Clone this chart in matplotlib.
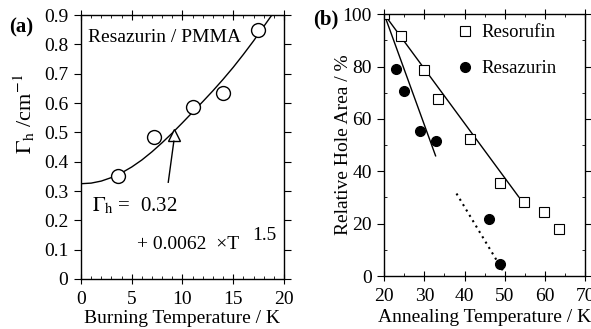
import matplotlib.pyplot as plt
from matplotlib.ticker import MultipleLocator

plt.rcParams['font.family'] = ['Liberation Serif', 'DejaVu Serif']
plt.rcParams['mathtext.fontset'] = 'stix'

# panel (a): hole width vs burning temperature
T_burn = [3.6, 7.2, 11.0, 14.0, 17.4]
gamma_h = [0.35, 0.485, 0.585, 0.635, 0.85]
T_tri = [9.2]
gamma_tri = [0.49]
# fitted curve
T_fit = [0, 1, 2, 3, 4, 5, 6, 7, 8, 9, 10, 11, 12, 13, 14, 15, 16, 17, 18, 18.8]
gamma_fit = [0.325, 0.327, 0.334, 0.346, 0.362, 0.382, 0.406, 0.434, 0.465, 0.498,
             0.533, 0.569, 0.605, 0.642, 0.681, 0.722, 0.766, 0.812, 0.861, 0.90]

# panel (b): relative hole area vs annealing temperature
T_resorufin = [20, 24.2, 30, 33.5, 41.4, 48.8, 54.9, 59.8, 63.4]
area_resorufin = [100, 91.5, 78.5, 67.5, 52.2, 35.6, 28.3, 24.4, 18.1]
T_resazurin = [22.9, 25, 29, 33, 46.2, 48.8]
area_resazurin = [79, 70.8, 55.4, 51.4, 21.6, 4.7]
line_resorufin_x = [20, 53.5]
line_resorufin_y = [100, 30.2]
line_resazurin_x = [20, 32.8]
line_resazurin_y = [100, 45.9]
dotted_x = [38, 50]
dotted_y = [31.5, 0.9]

fs = 14

fig = plt.figure(figsize=(5.91, 3.29), dpi=100)
ax1 = fig.add_axes([0.137, 0.152, 0.3435, 0.802])
ax2 = fig.add_axes([0.650, 0.161, 0.340, 0.796])

for ax in (ax1, ax2):
    ax.tick_params(which='both', top=True, right=True, labelsize=fs)
    ax.tick_params(which='major', direction='out', length=5, width=0.8, pad=4)
    ax.tick_params(which='minor', direction='in', length=2.5, width=0.6)
    ax.tick_params(axis='x', which='major', direction='inout', length=7, pad=5)
    for s in ax.spines.values():
        s.set_linewidth(1.0)

# (a)
ax1.plot(T_fit, gamma_fit, color='black', lw=1.0)
ax1.plot(T_burn, gamma_h, 'o', ms=10, mfc='white', mec='black', mew=1.0)
ax1.plot(T_tri, gamma_tri, '^', ms=8, mfc='white', mec='black', mew=1.0)
ax1.plot([8.6, 9.15], [0.33, 0.47], color='black', lw=1.0)
ax1.set_xlim(0, 20)
ax1.set_ylim(0, 0.9)
ax1.xaxis.set_major_locator(MultipleLocator(5))
ax1.xaxis.set_minor_locator(MultipleLocator(1))
ax1.set_yticks([0, 0.1, 0.2, 0.3, 0.4, 0.5, 0.6, 0.7, 0.8, 0.9])
ax1.set_yticklabels(['0', '0.1', '0.2', '0.3', '0.4', '0.5', '0.6', '0.7', '0.8', '0.9'])
ax1.set_xlabel('Burning Temperature / K', fontsize=fs)
ax1.xaxis.set_label_coords(0.5, -0.118)
ax1.set_ylabel(r'$\Gamma_{\mathrm{h}}$ /cm$^{-1}$', fontsize=16)
ax1.yaxis.set_label_coords(-0.215, 0.625)
ax1.text(0.7, 0.825, 'Resazurin / PMMA', fontsize=fs, va='center')
ax1.text(1.1, 0.25, r'$\Gamma_{\mathrm{h}}$ =  0.32', fontsize=fs + 1, va='center')
ax1.text(5.5, 0.116, u'+ 0.0062  \u00d7T', fontsize=fs, va='center')
ax1.text(16.85, 0.15, '1.5', fontsize=fs, va='center')
fig.text(0.015, 0.915, '(a)', fontsize=fs + 1, fontweight='bold', va='center')

# (b)
ax2.plot(line_resorufin_x, line_resorufin_y, color='black', lw=1.0)
ax2.plot(line_resazurin_x, line_resazurin_y, color='black', lw=1.0)
ax2.plot(dotted_x, dotted_y, color='black', lw=1.5, ls=(0, (1, 2)))
ax2.plot(T_resorufin, area_resorufin, 's', ms=6.5, mfc='white', mec='black', mew=0.8,
         label='Resorufin')
ax2.plot(T_resazurin, area_resazurin, 'o', ms=7, color='black', label='Resazurin')
ax2.set_xlim(20, 70)
ax2.set_ylim(0, 100)
ax2.xaxis.set_major_locator(MultipleLocator(10))
ax2.xaxis.set_minor_locator(MultipleLocator(5))
ax2.yaxis.set_major_locator(MultipleLocator(20))
ax2.yaxis.set_minor_locator(MultipleLocator(10))
ax2.set_xlabel('Annealing Temperature / K', fontsize=fs)
ax2.xaxis.set_label_coords(0.5, -0.125)
ax2.set_ylabel('Relative Hole Area / %', fontsize=fs)
ax2.yaxis.set_label_coords(-0.16, 0.5)
ax2.legend(loc='upper left', bbox_to_anchor=(0.318, 0.99), frameon=False, fontsize=fs - 0.5,
           handlelength=1.0, handletextpad=0.4, borderaxespad=0, labelspacing=1.0)
fig.text(0.53, 0.94, '(b)', fontsize=fs + 1, fontweight='bold', va='center')

fig.savefig('out.png', dpi=100)
